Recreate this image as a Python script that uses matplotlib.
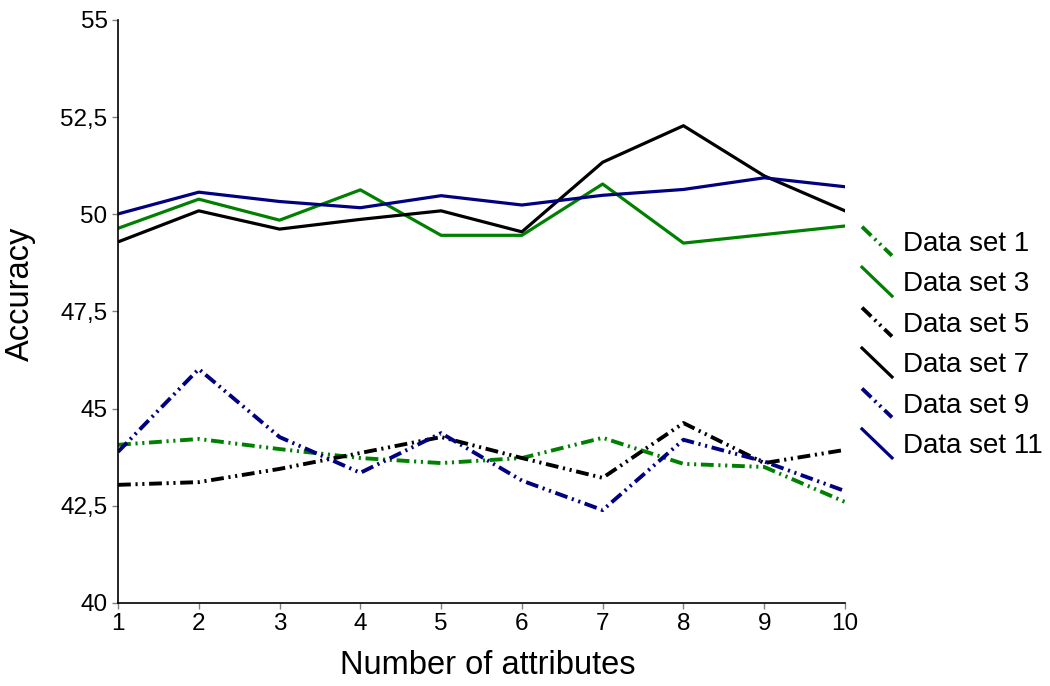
import matplotlib
matplotlib.use('Agg')
import matplotlib.pyplot as plt
from matplotlib.legend_handler import HandlerBase
from matplotlib.lines import Line2D

plt.rcParams['font.family'] = ['Liberation Sans', 'DejaVu Sans']

# data
attrs = [1, 2, 3, 4, 5, 6, 7, 8, 9, 10]
ds1 = [44.07, 44.22, 43.96, 43.73, 43.60, 43.73, 44.25, 43.58, 43.50, 42.60]
ds3 = [49.64, 50.39, 49.85, 50.63, 49.46, 49.46, 50.78, 49.26, 49.48, 49.70]
ds5 = [43.04, 43.11, 43.45, 43.86, 44.27, 43.73, 43.22, 44.63, 43.60, 43.94]
ds7 = [49.29, 50.09, 49.62, 49.87, 50.09, 49.55, 51.34, 52.28, 50.99, 50.09]
ds9 = [43.89, 46.02, 44.27, 43.35, 44.37, 43.15, 42.39, 44.20, 43.64, 42.88]
ds11 = [50.01, 50.57, 50.33, 50.17, 50.48, 50.24, 50.49, 50.64, 50.94, 50.71]

yticks = [40, 42.5, 45, 47.5, 50, 52.5, 55]
ytick_labels = ['40', '42,5', '45', '47,5', '50', '52,5', '55']

green = '#008000'
navy = '#000080'
dashdotdot = (0, (3.3, 1.2, 0.55, 1.2, 0.55, 1.2))


# Excel style legend: short diagonal line instead of a horizontal one
class DiagonalHandler(HandlerBase):
    def create_artists(self, legend, orig_handle, xdescent, ydescent,
                       width, height, fontsize, trans):
        yc = height / 2 - ydescent
        half = 0.52 * fontsize
        line = Line2D([-xdescent, -xdescent + width], [yc + half, yc - half])
        line.update_from(orig_handle)
        line.set_clip_box(None)
        line.set_clip_path(None)
        line.set_transform(trans)
        return [line]


fig = plt.figure(figsize=(10.5, 6.86), dpi=100)
ax = fig.add_axes([118/1050, 1 - 603/686, 727/1050, 583/686])

h1, = ax.plot(attrs, ds1, color=green, lw=2.8, linestyle=dashdotdot, label='Data set 1')
h3, = ax.plot(attrs, ds3, color=green, lw=2.3, label='Data set 3')
h5, = ax.plot(attrs, ds5, color='black', lw=2.8, linestyle=dashdotdot, label='Data set 5')
h7, = ax.plot(attrs, ds7, color='black', lw=2.3, label='Data set 7')
h9, = ax.plot(attrs, ds9, color=navy, lw=2.8, linestyle=dashdotdot, label='Data set 9')
h11, = ax.plot(attrs, ds11, color=navy, lw=2.3, label='Data set 11')

ax.set_xlim(1, 10)
ax.set_ylim(40, 55)
ax.set_xticks(attrs)
ax.set_yticks(yticks)
ax.set_yticklabels(ytick_labels)
ax.tick_params(axis='both', direction='out', length=4, width=1, color='#808080',
               labelsize=17.5, pad=3.5)

for s in ['top', 'right']:
    ax.spines[s].set_visible(False)
for s in ['left', 'bottom']:
    ax.spines[s].set_linewidth(1.2)

ax.set_xlabel('Number of attributes', fontsize=23.5)
ax.set_ylabel('Accuracy', fontsize=23.5)
ax.xaxis.set_label_coords(0.509, -0.081)
ax.yaxis.set_label_coords(-0.1135, 0.53)

handles = [h1, h3, h5, h7, h9, h11]
fig.legend(handles=handles, labels=[h.get_label() for h in handles],
           handler_map={Line2D: DiagonalHandler()},
           loc='center left', bbox_to_anchor=(862/1050, 1 - 345/686),
           frameon=False, fontsize=20, borderpad=0, borderaxespad=0,
           handlelength=1.08, handletextpad=0.4, labelspacing=0.52)

plt.savefig('out.png', dpi=100)
